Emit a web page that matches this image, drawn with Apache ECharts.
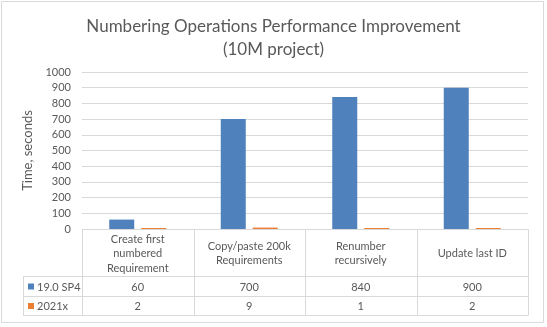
<!DOCTYPE html>
<html>
<head>
<meta charset="utf-8">
<script src="https://cdn.jsdelivr.net/npm/echarts@6/dist/echarts.min.js"></script>
<style>
html,body{margin:0;padding:0;background:#fff;}
#c{width:547px;height:327px;}
</style>
</head>
<body>
<div id="c"></div>
<script>
var categories = ['Create first\nnumbered\nRequirement', 'Copy/paste 200k\nRequirements', 'Renumber\nrecursively', 'Update last ID'];
var seriesNames = ['19.0 SP4', '2021x'];
var valuesSP4 = [60, 700, 840, 900];
var values2021x = [2, 9, 1, 2];
var yMin = 0, yMax = 1000, yInterval = 100;

var FONT = 'Lato';
var TXT = '#595959';
var LINE = '#D9D9D9';
var colors = ['#4F81BD', '#ED7D31'];

var chart = echarts.init(document.getElementById('c'), null, {renderer: 'canvas'});
chart.setOption({
  animation: false,
  backgroundColor: '#fff',
  title: {
    text: 'Numbering Operations Performance Improvement\n(10M project)',
    left: 'center',
    top: 10,
    textStyle: {fontFamily: FONT, fontSize: 17, fontWeight: 'normal', color: TXT, lineHeight: 23}
  },
  grid: {left: 82, right: 19, top: 72, bottom: 98, containLabel: false},
  xAxis: {
    type: 'category',
    data: categories,
    axisLine: {show: false},
    axisTick: {show: false},
    axisLabel: {show: false},
    splitLine: {show: false}
  },
  yAxis: {
    type: 'value',
    min: yMin, max: yMax, interval: yInterval,
    name: 'Time, seconds',
    nameLocation: 'middle',
    nameGap: 47,
    nameRotate: 90,
    nameTextStyle: {fontFamily: FONT, fontSize: 13, color: TXT},
    axisLine: {show: false},
    axisTick: {show: false},
    axisLabel: {fontFamily: FONT, fontSize: 11, color: TXT, margin: 11, formatter: function (v) { return String(v); }},
    splitLine: {lineStyle: {color: LINE, width: 1}}
  },
  series: [
    {name: seriesNames[0], type: 'bar', data: valuesSP4, barWidth: 25, barGap: '28%', barMinHeight: 1, itemStyle: {color: colors[0]}},
    {name: seriesNames[1], type: 'bar', data: values2021x, barWidth: 25, barGap: '28%', barMinHeight: 1, itemStyle: {color: colors[1]}}
  ]
});

// Data table under the plot, positioned from the axis scales
function buildTable() {
  var g = [];
  var n = categories.length;
  var base = chart.convertToPixel({yAxisIndex: 0}, 0);
  var c0 = chart.convertToPixel({xAxisIndex: 0}, 0);
  var c1 = chart.convertToPixel({xAxisIndex: 0}, 1);
  var w = c1 - c0;
  var left = c0 - w / 2, right = left + w * n;
  var rowH = [47, 20, 19];
  var y1 = base + rowH[0], y2 = y1 + rowH[1], y3 = y2 + rowH[2];
  var keyLeft = 23;
  var ls = {stroke: LINE, lineWidth: 1};
  function hl(x1, x2, y) { g.push({type: 'line', silent: true, shape: {x1: x1, y1: Math.round(y) + 0.5, x2: x2, y2: Math.round(y) + 0.5}, style: ls}); }
  function vl(x, ya, yb) { g.push({type: 'line', silent: true, shape: {x1: Math.round(x) + 0.5, y1: ya, x2: Math.round(x) + 0.5, y2: yb}, style: ls}); }
  hl(left, right, base);
  hl(keyLeft, right, y1);
  hl(keyLeft, right, y2);
  hl(keyLeft, right, y3);
  for (var i = 0; i <= n; i++) vl(left + w * i, base, y3 + 0.5);
  vl(keyLeft, y1, y3 + 0.5);
  var rows = [valuesSP4, values2021x];
  var rowTop = [y1, y2], rowHeight = [rowH[1], rowH[2]];
  for (var i = 0; i < n; i++) {
    var cx = chart.convertToPixel({xAxisIndex: 0}, i);
    g.push({type: 'text', silent: true, x: cx, y: base + rowH[0] / 2 + 1,
      style: {text: categories[i], fontFamily: FONT, fontSize: 11, fill: TXT, align: 'center', verticalAlign: 'middle', lineHeight: 14.5}});
    for (var r = 0; r < 2; r++) {
      g.push({type: 'text', silent: true, x: cx, y: rowTop[r] + rowHeight[r] / 2 + 1,
        style: {text: String(rows[r][i]), fontFamily: FONT, fontSize: 11, fill: TXT, align: 'center', verticalAlign: 'middle'}});
    }
  }
  for (var r = 0; r < 2; r++) {
    var cy = rowTop[r] + rowHeight[r] / 2 + 1;
    g.push({type: 'rect', silent: true, shape: {x: 28, y: cy - 3.5, width: 6, height: 6}, style: {fill: colors[r]}});
    g.push({type: 'text', silent: true, x: 37, y: cy,
      style: {text: seriesNames[r], fontFamily: FONT, fontSize: 11, fill: TXT, align: 'left', verticalAlign: 'middle'}});
  }
  // chart border
  g.push({type: 'rect', silent: true, shape: {x: 1.5, y: 1.5, width: 542, height: 321}, style: {fill: null, stroke: LINE, lineWidth: 1}});
  chart.setOption({graphic: g});
}
buildTable();
</script>
</body>
</html>
